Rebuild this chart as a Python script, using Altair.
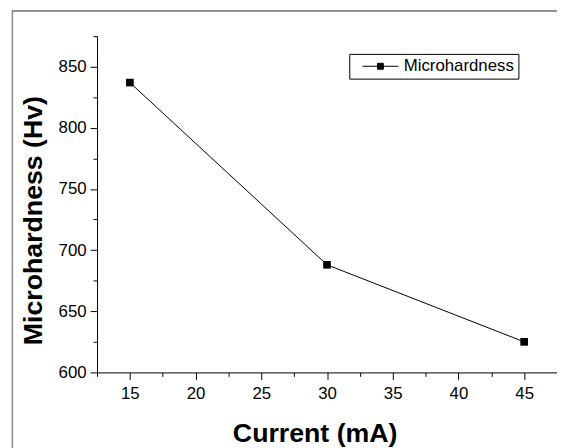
import altair as alt
import pandas as pd

# ---- data ----
current = [15, 30, 45]
hardness = [837, 688, 625]
series = ["Microhardness", "Microhardness", "Microhardness"]

x_major = [15, 20, 25, 30, 35, 40, 45]
x_minor = [12.5, 17.5, 22.5, 27.5, 32.5, 37.5, 42.5, 47.5]
y_major = [600, 650, 700, 750, 800, 850]
y_minor = [625, 675, 725, 775, 825, 875]

df = pd.DataFrame({"current": current, "hardness": hardness, "series": series})

FONT = "Liberation Sans"
W, H = 465, 340

xscale = alt.Scale(domain=[12.5, 47.5], nice=False, zero=False)
yscale = alt.Scale(domain=[600, 875], nice=False, zero=False)

common_axis = dict(
    grid=False,
    domainColor="black",
    domainWidth=1,
    tickColor="black",
    tickWidth=1,
    labelFont=FONT,
    labelFontSize=17,
    labelColor="black",
    titleFont=FONT,
    titleFontSize=27,
    titleFontWeight="bold",
    titleColor="black",
)

base = alt.Chart(df)

# decorative outer frame
frame = base.mark_rect(fill="transparent", stroke="#8a8a8a", strokeWidth=1.2).encode(
    x=alt.value(-85.5), x2=alt.value(700), y=alt.value(-25.5), y2=alt.value(700)
)

line = base.mark_line(color="black", strokeWidth=1).encode(
    x=alt.X(
        "current:Q",
        scale=xscale,
        axis=alt.Axis(
            values=x_major,
            orient="bottom",
            tickSize=7,
            labelPadding=6,
            title="Current (mA)",
            titleX=220,
            titleY=70,
            titleBaseline="alphabetic",
            titleAlign="center",
            **common_axis,
        ),
    ),
    y=alt.Y(
        "hardness:Q",
        scale=yscale,
        axis=alt.Axis(
            values=y_major,
            orient="left",
            tickSize=7,
            labelPadding=4,
            title="Microhardness (Hv)",
            titleX=-56,
            titleY=186,
            titleAngle=270,
            titleBaseline="alphabetic",
            titleAlign="center",
            **common_axis,
        ),
    ),
)

minor = base.mark_point(opacity=0).encode(
    x=alt.X(
        "current:Q",
        axis=alt.Axis(values=x_minor, orient="bottom", labels=False, tickSize=4,
                      domain=False, title=None, grid=False, tickColor="black"),
    ),
    y=alt.Y(
        "hardness:Q",
        axis=alt.Axis(values=y_minor, orient="left", labels=False, tickSize=4,
                      domain=False, title=None, grid=False, tickColor="black"),
    ),
)

points = base.mark_square(size=60, color="black", opacity=1).encode(
    x=alt.X("current:Q", axis=None),
    y=alt.Y("hardness:Q", axis=None),
    color=alt.Color(
        "series:N",
        scale=alt.Scale(range=["black"]),
        legend=alt.Legend(
            title=None,
            orient="none",
            legendX=255,
            legendY=18,
            strokeColor="black",
            padding=4,
            cornerRadius=0,
            fillColor="white",
            labelFont=FONT,
            labelFontSize=17,
            labelColor="black",
            symbolType="M-5.2,0H5.2M-0.85,-0.85H0.85V0.85H-0.85Z",
            symbolSize=49,
            symbolStrokeColor="black",
            symbolFillColor="black",
            symbolStrokeWidth=1,
            symbolOpacity=1,
            symbolOffset=19,
            labelOffset=15,
        ),
    ),
)

chart = (
    alt.layer(frame, line, minor, points)
    .resolve_axis(x="independent", y="independent")
    .properties(
        width=W,
        height=H,
        autosize=alt.AutoSizeParams(type="none"),
        padding={"left": 90, "top": 26, "right": 0, "bottom": 74},
        background="white",
    )
    .configure_view(stroke=None)
)

chart.save("out.html", embed_options={"renderer": "svg", "actions": False})
